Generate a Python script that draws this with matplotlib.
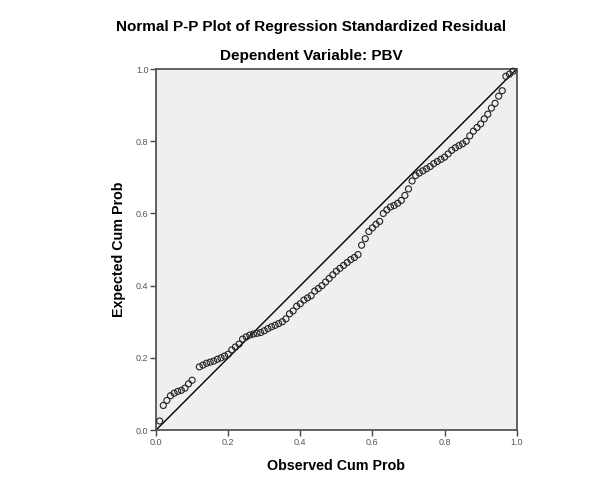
import matplotlib
matplotlib.use("Agg")
import matplotlib.pyplot as plt

observed = [0.01, 0.02, 0.03, 0.04, 0.05, 0.06, 0.07, 0.08, 0.09, 0.10,
            0.12, 0.13, 0.14, 0.15, 0.16, 0.17, 0.18, 0.19, 0.20, 0.21,
            0.22, 0.23, 0.24, 0.25, 0.26, 0.27, 0.28, 0.29, 0.30, 0.31,
            0.32, 0.33, 0.34, 0.35, 0.36, 0.37, 0.38, 0.39, 0.40, 0.41,
            0.42, 0.43, 0.44, 0.45, 0.46, 0.47, 0.48, 0.49, 0.50, 0.51,
            0.52, 0.53, 0.54, 0.55, 0.56, 0.57, 0.58, 0.59, 0.60, 0.61,
            0.62, 0.63, 0.64, 0.65, 0.66, 0.67, 0.68, 0.69, 0.70, 0.71,
            0.72, 0.73, 0.74, 0.75, 0.76, 0.77, 0.78, 0.79, 0.80, 0.81,
            0.82, 0.83, 0.84, 0.85, 0.86, 0.87, 0.88, 0.89, 0.90, 0.91,
            0.92, 0.93, 0.94, 0.95, 0.96, 0.97, 0.98, 0.99]
expected = [0.025, 0.068, 0.082, 0.095, 0.102, 0.107, 0.110, 0.116, 0.128, 0.138,
            0.175, 0.180, 0.185, 0.188, 0.191, 0.196, 0.200, 0.205, 0.210, 0.222,
            0.230, 0.238, 0.252, 0.258, 0.263, 0.266, 0.268, 0.270, 0.275, 0.281,
            0.286, 0.290, 0.295, 0.300, 0.308, 0.322, 0.330, 0.343, 0.350, 0.360,
            0.366, 0.372, 0.385, 0.392, 0.400, 0.410, 0.420, 0.430, 0.440, 0.448,
            0.456, 0.464, 0.472, 0.478, 0.486, 0.512, 0.530, 0.550, 0.560, 0.570,
            0.578, 0.600, 0.610, 0.618, 0.622, 0.628, 0.636, 0.650, 0.668, 0.690,
            0.705, 0.712, 0.718, 0.724, 0.730, 0.738, 0.744, 0.750, 0.756, 0.765,
            0.775, 0.782, 0.788, 0.793, 0.800, 0.815, 0.828, 0.838, 0.848, 0.862,
            0.875, 0.892, 0.905, 0.925, 0.940, 0.980, 0.986, 0.994]
ref_line = [0.0, 1.0]
ticks = [0.0, 0.2, 0.4, 0.6, 0.8, 1.0]
tick_labels = ["0.0", "0.2", "0.4", "0.6", "0.8", "1.0"]

plt.rcParams['font.family'] = ['Liberation Sans', 'DejaVu Sans']

fig = plt.figure(figsize=(5.98, 4.83), dpi=100)
fig.patch.set_facecolor('white')
ax = fig.add_axes([0.261, 0.1097, 0.603, 0.7473])
ax.set_facecolor('#efefef')

ax.plot(ref_line, ref_line, color='black', linewidth=1.0, zorder=2)
ax.scatter(observed, expected, s=19, facecolors='none', edgecolors='#222222',
           linewidths=0.8, zorder=3, clip_on=False)

ax.set_xlim(0, 1)
ax.set_ylim(0, 1)
ax.set_xticks(ticks)
ax.set_xticklabels(tick_labels)
ax.set_yticks(ticks)
ax.set_yticklabels(tick_labels)
ax.tick_params(axis='both', direction='out', length=4, width=1, color='#444444',
               labelsize=6.5, labelcolor='#555555', pad=1.5)
for sp in ax.spines.values():
    sp.set_color('#555555')
    sp.set_linewidth(1.3)

ax.set_xlabel('Observed Cum Prob', fontsize=10.3, fontweight='bold', labelpad=9)
ax.set_ylabel('Expected Cum Prob', fontsize=10.3, fontweight='bold', labelpad=7)

fig.text(0.521, 1 - 27/483, 'Normal P-P Plot of Regression Standardized Residual',
         ha='center', va='center', fontsize=11, fontweight='bold')
fig.text(0.521, 1 - 56/483, 'Dependent Variable: PBV',
         ha='center', va='center', fontsize=11, fontweight='bold')

fig.savefig('out.png', dpi=100, facecolor='white')
